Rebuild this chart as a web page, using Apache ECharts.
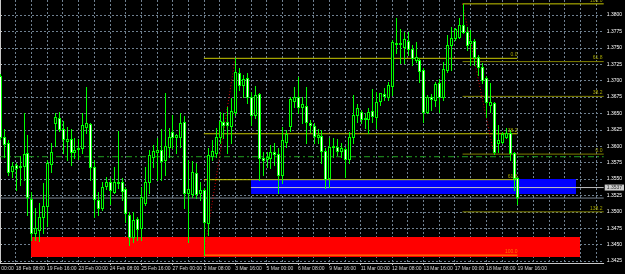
<!DOCTYPE html>
<html><head><meta charset="utf-8">
<script src="https://cdn.jsdelivr.net/npm/echarts@6/dist/echarts.min.js"></script>
<style>html,body{margin:0;padding:0;background:#000;}#c{width:625px;height:274px;}</style>
</head><body><div id="c"></div>
<script>
// ---------- data ----------
const tradingDays = ['17 Feb','18 Feb','19 Feb','20 Feb','23 Feb','24 Feb','25 Feb','26 Feb','27 Feb',
  '2 Mar','3 Mar','4 Mar','5 Mar','6 Mar','9 Mar','10 Mar','11 Mar','12 Mar','13 Mar',
  '16 Mar','17 Mar','18 Mar','19 Mar','20 Mar','23 Mar','24 Mar','25 Mar'];
const barHours = ['00:00','04:00','08:00','12:00','16:00','20:00'];
const firstBar = '17 Feb 16:00';
const slotCount = 155;

const timeTicks = ['17 Feb 00:00','18 Feb 08:00','19 Feb 16:00','23 Feb 00:00','24 Feb 08:00','25 Feb 16:00','27 Feb 00:00',
  '2 Mar 08:00','3 Mar 16:00','5 Mar 00:00','6 Mar 08:00','9 Mar 16:00','11 Mar 00:00','12 Mar 08:00',
  '13 Mar 16:00','17 Mar 00:00','18 Mar 08:00','19 Mar 16:00'];
const priceTicks = [1.3425,1.3450,1.3475,1.3500,1.3525,1.3550,1.3575,1.3600,1.3625,1.3650,1.3675,1.3700,1.3725,1.3750,1.3775,1.3800,1.3825];

const openP = [1.3707,1.3614,1.3605,1.3562,1.3571,1.3568,1.3570,1.3590,1.3520,1.3468,1.3472,1.3492,1.3509,1.3573,1.3635,1.3643,1.3626,1.3608,1.3611,1.3591,
  1.3596,1.3597,1.3629,1.3634,1.3568,1.3518,1.3506,1.3539,1.3546,1.3530,1.3544,1.3546,1.3535,1.3495,1.3462,1.3489,1.3475,1.3514,1.3546,1.3584,
  1.3591,1.3594,1.3579,1.3599,1.3622,1.3614,1.3614,1.3637,1.3529,1.3527,1.3559,1.3529,1.3533,1.3483,1.3585,1.3590,1.3614,1.3637,1.3637,1.3631,
  1.3652,1.3712,1.3693,1.3704,1.3675,1.3648,1.3680,1.3582,1.3581,1.3582,1.3591,1.3588,1.3556,1.3607,1.3631,1.3669,1.3675,1.3660,1.3661,1.3635,
  1.3631,1.3614,1.3616,1.3593,1.3552,1.3599,1.3599,1.3593,1.3596,1.3581,1.3614,1.3648,1.3652,1.3642,1.3642,1.3654,1.3645,1.3669,1.3680,1.3675,
  1.3692,1.3757,1.3757,1.3751,1.3760,1.3748,1.3731,1.3731,1.3716,1.3652,1.3675,1.3670,1.3696,1.3675,1.3716,1.3754,1.3765,1.3767,1.3785,1.3774,
  1.3757,1.3760,1.3736,1.3721,1.3704,1.3663,1.3666,1.3605,1.3607,1.3614,1.3620,1.3590,1.3552];
const highP = [1.3710,1.3626,1.3610,1.3576,1.3575,1.3585,1.3651,1.3617,1.3530,1.3506,1.3514,1.3544,1.3579,1.3605,1.3651,1.3652,1.3638,1.3629,1.3626,1.3613,
  1.3611,1.3651,1.3690,1.3635,1.3579,1.3530,1.3546,1.3553,1.3552,1.3568,1.3623,1.3552,1.3538,1.3500,1.3500,1.3492,1.3538,1.3568,1.3594,1.3602,
  1.3613,1.3626,1.3681,1.3628,1.3648,1.3619,1.3651,1.3646,1.3579,1.3578,1.3575,1.3546,1.3536,1.3597,1.3610,1.3628,1.3652,1.3651,1.3660,1.3674,
  1.3734,1.3719,1.3709,1.3712,1.3683,1.3692,1.3681,1.3591,1.3591,1.3602,1.3605,1.3597,1.3629,1.3625,1.3675,1.3690,1.3706,1.3675,1.3690,1.3640,
  1.3635,1.3626,1.3625,1.3597,1.3613,1.3613,1.3611,1.3605,1.3599,1.3622,1.3678,1.3664,1.3655,1.3651,1.3658,1.3687,1.3683,1.3681,1.3689,1.3698,
  1.3762,1.3796,1.3779,1.3774,1.3774,1.3754,1.3759,1.3734,1.3719,1.3678,1.3680,1.3698,1.3702,1.3728,1.3770,1.3782,1.3780,1.3796,1.3817,1.3782,
  1.3777,1.3763,1.3739,1.3727,1.3707,1.3696,1.3667,1.3632,1.3622,1.3628,1.3625,1.3591,1.3553];
const lowP = [1.3611,1.3584,1.3556,1.3553,1.3533,1.3541,1.3549,1.3495,1.3457,1.3457,1.3456,1.3468,1.3479,1.3561,1.3600,1.3623,1.3590,1.3579,1.3571,1.3582,
  1.3581,1.3590,1.3620,1.3549,1.3492,1.3495,1.3503,1.3535,1.3512,1.3529,1.3536,1.3518,1.3485,1.3450,1.3454,1.3457,1.3457,1.3510,1.3529,1.3568,
  1.3549,1.3549,1.3556,1.3584,1.3597,1.3590,1.3599,1.3506,1.3454,1.3523,1.3521,1.3518,1.3434,1.3465,1.3579,1.3584,1.3605,1.3613,1.3590,1.3605,
  1.3648,1.3686,1.3675,1.3666,1.3632,1.3643,1.3549,1.3556,1.3568,1.3567,1.3571,1.3529,1.3544,1.3599,1.3623,1.3660,1.3651,1.3635,1.3605,1.3622,
  1.3605,1.3605,1.3575,1.3536,1.3538,1.3584,1.3587,1.3584,1.3553,1.3575,1.3605,1.3637,1.3635,1.3628,1.3620,1.3637,1.3628,1.3663,1.3670,1.3670,
  1.3678,1.3742,1.3727,1.3727,1.3739,1.3724,1.3728,1.3698,1.3637,1.3651,1.3655,1.3661,1.3652,1.3670,1.3713,1.3716,1.3762,1.3765,1.3773,1.3747,
  1.3724,1.3724,1.3709,1.3696,1.3645,1.3652,1.3588,1.3591,1.3605,1.3613,1.3579,1.3533,1.3512];
const closeP = [1.3614,1.3603,1.3561,1.3570,1.3567,1.3570,1.3588,1.3523,1.3468,1.3475,1.3492,1.3509,1.3575,1.3591,1.3645,1.3626,1.3611,1.3611,1.3591,1.3594,
  1.3597,1.3632,1.3635,1.3568,1.3520,1.3506,1.3538,1.3546,1.3533,1.3546,1.3546,1.3532,1.3498,1.3462,1.3488,1.3474,1.3523,1.3546,1.3587,1.3593,
  1.3594,1.3578,1.3600,1.3614,1.3614,1.3617,1.3635,1.3529,1.3535,1.3561,1.3527,1.3533,1.3485,1.3587,1.3593,1.3614,1.3638,1.3632,1.3632,1.3654,
  1.3713,1.3693,1.3702,1.3675,1.3648,1.3678,1.3582,1.3579,1.3584,1.3591,1.3588,1.3556,1.3610,1.3619,1.3672,1.3675,1.3660,1.3664,1.3637,1.3632,
  1.3616,1.3617,1.3593,1.3550,1.3599,1.3600,1.3593,1.3597,1.3581,1.3614,1.3648,1.3658,1.3642,1.3643,1.3652,1.3646,1.3667,1.3681,1.3677,1.3693,
  1.3759,1.3756,1.3756,1.3763,1.3748,1.3734,1.3736,1.3715,1.3652,1.3675,1.3672,1.3695,1.3675,1.3718,1.3754,1.3765,1.3779,1.3785,1.3774,1.3754,
  1.3760,1.3736,1.3721,1.3701,1.3667,1.3667,1.3591,1.3610,1.3619,1.3620,1.3590,1.3552,1.3523];

// drawn objects (bar index, price)
const fibALevels = [1.3734, 1.3619, 1.3549, 1.3434];
const fibALabels = ['0.0', '38.2', '61.8', '100.0'];
const fibAColors = ['#c8c800', '#c8c800', '#c8c800', '#ff9900'];
const fibARange = [52, 132];
const fibATrend = [[52, 1.3434], [60, 1.3734]];
const fibBLevels = [1.3817, 1.3729, 1.3676, 1.3588, 1.3500];
const fibBLabels = ['100.0', '61.8', '38.2', '0.0', '138.2'];
const fibBColors = ['#c8c800', '#808000', '#808000', '#808000', '#808000'];
const fibBRange = [118, 154];
const fibBTrend = [[118, 1.3817], [126, 1.3588]];
const redBox = [7.9, 1.3461, 147.9, 1.3431];
const blueBox = [64, 1.3550, 146.9, 1.3527];
const greenLevel = 1.3584;
const greyLevel = 1.3521;
const bidPrice = 1.3537;

// ---------- build ----------
const allTimes = [];
tradingDays.forEach(d => barHours.forEach(h => allTimes.push(d + ' ' + h)));
const start = allTimes.indexOf(firstBar);
const categories = allTimes.slice(start, start + slotCount);
const candleData = openP.map((o, i) => [i, o, closeP[i], lowP[i], highP[i]]);
const yMin = 1.34220, yMax = 1.38229;

const LIME = '#00ff00';
const FONT = 'Liberation Sans';

function renderCandle(params, api) {
  const i = api.value(0), o = api.value(1), c = api.value(2), l = api.value(3), h = api.value(4);
  const pO = api.coord([i, o]), pC = api.coord([i, c]), pH = api.coord([i, h]), pL = api.coord([i, l]);
  const X = Math.round(pO[0]);
  const yT = Math.round(Math.min(pO[1], pC[1])), yB = Math.round(Math.max(pO[1], pC[1]));
  const yH = Math.round(pH[1]), yL = Math.round(pL[1]);
  const ch = [
    {type: 'rect', shape: {x: X, y: yH, width: 1, height: Math.max(1, yL - yH + 1)}, style: {fill: LIME}},
    {type: 'rect', shape: {x: X - 1, y: yT, width: 3, height: yB - yT + 1}, style: {fill: LIME}}
  ];
  if (yB - yT >= 2) ch.push({type: 'rect', shape: {x: X, y: yT + 1, width: 1, height: yB - yT - 1},
    style: {fill: c >= o ? '#000000' : '#ffffff'}});
  return {type: 'group', children: ch};
}

function boxSeries(b, color) {
  return {type: 'custom', xAxisIndex: 1, yAxisIndex: 0, z: 1, silent: true, animation: false,
    data: [b], encode: {x: [0, 2], y: [1, 3]},
    renderItem: (p, api) => {
      const a = api.coord([api.value(0), api.value(1)]);
      const d = api.coord([api.value(2), api.value(3)]);
      return {type: 'rect', shape: {x: Math.round(a[0]), y: Math.round(a[1]), width: Math.round(d[0]) - Math.round(a[0]), height: Math.round(d[1]) - Math.round(a[1])}, style: {fill: color}};
    }};
}
function seg(pts, color, type, z) {
  return {type: 'line', xAxisIndex: 1, yAxisIndex: 0, data: pts, symbol: 'none', silent: true, animation: false,
    lineStyle: {color: color, width: 1, type: type || 'solid'}, z: z || 2};
}
function labelSeries(pts, colors) {
  return {type: 'scatter', xAxisIndex: 1, yAxisIndex: 0, symbolSize: 0, silent: true, animation: false, z: 5, clip: false,
    data: pts.map((p, k) => ({value: [p[0], p[1]], name: p[2],
      label: {show: true, position: [0, 0], align: 'right', verticalAlign: 'bottom', offset: [0, -1],
        formatter: p[2], color: colors[k], fontSize: 5, fontFamily: FONT}}))};
}

const series = [];
series.push(boxSeries(redBox, '#ff0000'));
series.push(boxSeries(blueBox, '#0000ff'));
series.push(seg([[0, greyLevel], [154, greyLevel]], '#7b8794', 'solid', 1));
series.push(seg([[0, greenLevel], [154, greenLevel]], '#22a022', [6, 3, 2, 3], 1));
series.push(seg([[blueBox[0], bidPrice], [154, bidPrice]], '#c0c0c0', 'solid', 0));
fibALevels.forEach((v, k) => series.push(seg([[fibARange[0], v], [fibARange[1], v]], fibAColors[k])));
fibBLevels.forEach((v, k) => series.push(seg([[fibBRange[0], v], [fibBRange[1], v]], fibBColors[k])));
series.push(seg(fibATrend, '#d00000', [1, 2]));
series.push(seg(fibBTrend, '#d00000', [1, 2]));
series.push({type: 'custom', xAxisIndex: 0, yAxisIndex: 0, z: 3, silent: true, animation: false, clip: true,
  data: candleData, encode: {x: 0, y: [1, 2, 3, 4]}, renderItem: renderCandle});
series.push(labelSeries(fibALevels.map((v, k) => [fibARange[1], v, fibALabels[k]]), fibAColors.map(c => c === '#ff9900' ? '#ff9900' : '#c8c800')));
series.push(labelSeries(fibBLevels.map((v, k) => [153.7, v, fibBLabels[k]]), fibBLevels.map(() => '#c8c800')));
// bid price box on the price scale
series.push({type: 'scatter', xAxisIndex: 1, yAxisIndex: 0, symbolSize: 0, silent: true, animation: false, z: 6, clip: false,
  data: [[154, bidPrice]],
  label: {show: true, position: 'right', distance: 1, formatter: () => bidPrice.toFixed(4),
    backgroundColor: '#ffffff', color: '#000000', padding: [1, 2, 0, 2], fontSize: 5, fontFamily: FONT}});
// time-scale labels (left aligned at their bar, like the terminal does)
series.push({type: 'scatter', xAxisIndex: 1, yAxisIndex: 0, symbolSize: 0, silent: true, animation: false, z: 6, clip: false,
  data: timeTicks.map(t => ({value: [allTimes.indexOf(t) - start, yMin], name: t})),
  label: {show: true, position: [0, 0], align: 'left', verticalAlign: 'top', offset: [0, 3],
    formatter: p => p.name, color: '#ffffff', fontSize: 5, fontFamily: FONT}});

const chart = echarts.init(document.getElementById('c'), null, {renderer: 'canvas', width: 625, height: 274});
chart.setOption({
  backgroundColor: '#000000',
  animation: false,
  grid: {left: 0, right: 21, top: 0, bottom: 11, containLabel: false},
  xAxis: [{
    type: 'category', data: categories, boundaryGap: false,
    axisLine: {show: true, lineStyle: {color: '#c8c8c8', width: 1}},
    axisTick: {show: true, interval: (i, v) => timeTicks.includes(v), length: 2, lineStyle: {color: '#c8c8c8'}},
    axisLabel: {show: false},
    splitLine: {show: true, interval: (i) => i % 4 === 0, lineStyle: {color: '#6f8090', type: [2, 2], width: 1}}
  }, {
    type: 'value', min: 0, max: slotCount - 1, show: false
  }],
  yAxis: [{
    type: 'value', position: 'right', min: yMin, max: yMax,
    axisLine: {show: true, lineStyle: {color: '#c8c8c8', width: 1}},
    axisTick: {show: true, length: 2, customValues: priceTicks, lineStyle: {color: '#c8c8c8'}},
    axisLabel: {show: true, customValues: priceTicks, margin: 3, color: '#ffffff', fontSize: 5, fontFamily: FONT,
      formatter: v => v.toFixed(4), showMinLabel: true, showMaxLabel: true},
    splitLine: {show: true, lineStyle: {color: '#6f8090', type: [2, 2], width: 1}}
  }],
  series: series
});
</script></body></html>
